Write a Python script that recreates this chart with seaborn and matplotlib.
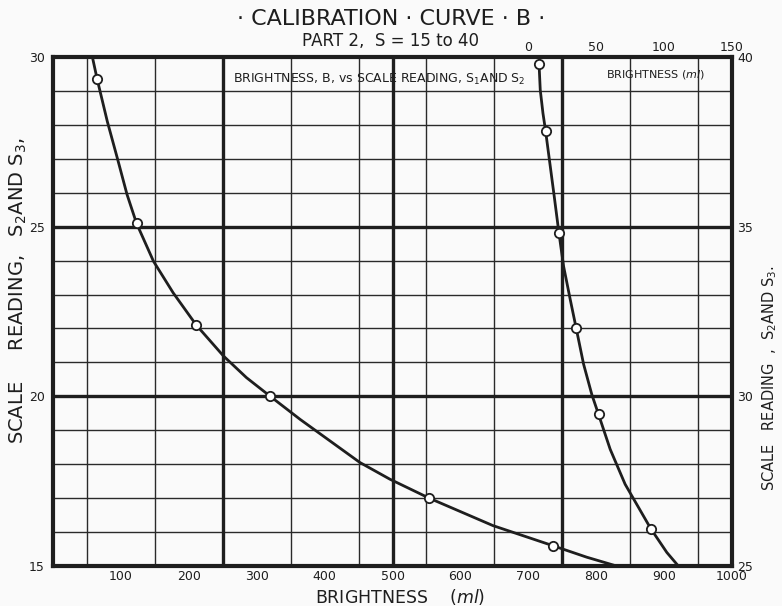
import matplotlib
matplotlib.use('Agg')
import matplotlib.pyplot as plt
import seaborn as sns

# left curve: brightness (bottom axis, ml) vs scale reading S2/S3 (left axis)
left_b_pts = [65, 123, 211, 320, 554, 736]
left_s_pts = [29.35, 25.1, 22.1, 20.0, 17.0, 15.6]
left_b_line = [58, 65, 80, 95, 109, 123, 148, 177, 211, 251, 285, 320,
               364, 452, 496, 554, 648, 736, 786, 830]
left_s_line = [30.0, 29.35, 28.1, 27.0, 25.95, 25.1, 23.98, 23.05, 22.1,
               21.19, 20.55, 20.0, 19.32, 18.05, 17.56, 17.0, 16.19, 15.6, 15.26, 15.0]

# right curve: brightness (top axis, ml) vs scale reading (right axis)
right_b_pts = [7.9, 12.7, 22.6, 35.3, 51.7, 90.2]
right_s_pts = [39.8, 37.83, 34.8, 32.0, 29.47, 26.1]
right_b_line = [7.9, 8.8, 10.8, 12.7, 16.2, 19.1, 22.6, 26.0, 30.9, 35.3,
                40.7, 46.8, 51.7, 60.3, 71.3, 90.2, 102, 110.5]
right_s_line = [39.8, 39.03, 38.34, 37.83, 36.77, 35.89, 34.8, 33.83, 32.85, 32.0,
                30.95, 30.05, 29.47, 28.44, 27.41, 26.1, 25.4, 25.0]

bottom_ticks = list(range(100, 1001, 100))
left_ticks = [15, 20, 25, 30]
top_ticks = [0, 50, 100, 150]
right_ticks = [25, 30, 35, 40]

sns.set_style('white')
ink = '#1e1e1e'
paper = '#fafafa'

fig = plt.figure(figsize=(7.82, 6.06), dpi=100)
fig.patch.set_facecolor(paper)
rect = [53/782, 1 - 566/606, 679/782, 509/606]
ax = fig.add_axes(rect)
ax.set_facecolor(paper)
ax.set_xlim(0, 1000)
ax.set_ylim(15, 30)

# grid paper
ax.set_xticks(range(0, 1001, 50), minor=True)
ax.set_yticks(range(15, 31), minor=True)
ax.grid(which='minor', color='#2a2a2a', lw=1.0)
ax.grid(which='major', visible=False)
for v in [250, 500, 750]:
    ax.axvline(v, color=ink, lw=2.4, zorder=1)
for h in [20, 25]:
    ax.axhline(h, color=ink, lw=2.4, zorder=1)
for s in ax.spines.values():
    s.set_linewidth(3)
    s.set_color(ink)

ax.set_xticks(bottom_ticks)
ax.set_yticks(left_ticks)
ax.tick_params(which='both', length=0)
ax.tick_params(axis='x', pad=3, labelsize=9, colors=ink)
ax.tick_params(axis='y', pad=6, labelsize=9, colors=ink)

sns.lineplot(x=left_b_line, y=left_s_line, ax=ax, sort=False, estimator=None,
             color=ink, lw=2, zorder=4)
sns.scatterplot(x=left_b_pts, y=left_s_pts, ax=ax, marker='o', s=45,
                facecolor='white', edgecolor=ink, linewidth=1.3, zorder=5)

ax.set_xlabel('BRIGHTNESS    $(\\it{ml})$', fontsize=12.5, color=ink)
ax.xaxis.set_label_coords(0.511, -0.041)
ax.set_ylabel('SCALE     READING,   S$_2$AND S$_3$,', fontsize=14, color=ink)
ax.yaxis.set_label_coords(-0.036, 0.54)

# second scale: top and right
ax2 = fig.add_axes(rect, frameon=False)
ax2.patch.set_alpha(0)
ax2.set_xlim(-350, 150)
ax2.set_ylim(25, 40)
ax2.xaxis.tick_top()
ax2.yaxis.tick_right()
ax2.yaxis.set_label_position('right')
ax2.set_xticks(top_ticks)
ax2.set_yticks(right_ticks)
ax2.tick_params(length=0, labelsize=9, colors=ink)
ax2.tick_params(axis='x', pad=2)
ax2.tick_params(axis='y', pad=4)
ax2.grid(False)

sns.lineplot(x=right_b_line, y=right_s_line, ax=ax2, sort=False, estimator=None,
             color=ink, lw=2, zorder=4)
sns.scatterplot(x=right_b_pts, y=right_s_pts, ax=ax2, marker='o', s=45,
                facecolor='white', edgecolor=ink, linewidth=1.3, zorder=5)
ax2.set_ylabel('SCALE   READING  ,  S$_2$AND S$_3$.', fontsize=10.5, color=ink)
ax2.yaxis.set_label_coords(1.041, 0.37)

ax.text(0.265, 0.955, 'BRIGHTNESS, B, vs SCALE READING, S$_1$AND S$_2$',
        transform=ax.transAxes, fontsize=9, color=ink, va='center', ha='left')
ax.text(0.815, 0.965, 'BRIGHTNESS $(\\it{ml})$', transform=ax.transAxes,
        fontsize=8, color=ink, va='center', ha='left')

fig.text(0.5, 0.968, '· CALIBRATION · CURVE · B ·', ha='center', va='center',
         fontsize=16, color=ink)
fig.text(0.5, 0.933, 'PART 2,  S = 15 to 40', ha='center', va='center',
         fontsize=12, color=ink)

fig.savefig('out.png', dpi=100, facecolor=fig.get_facecolor())
